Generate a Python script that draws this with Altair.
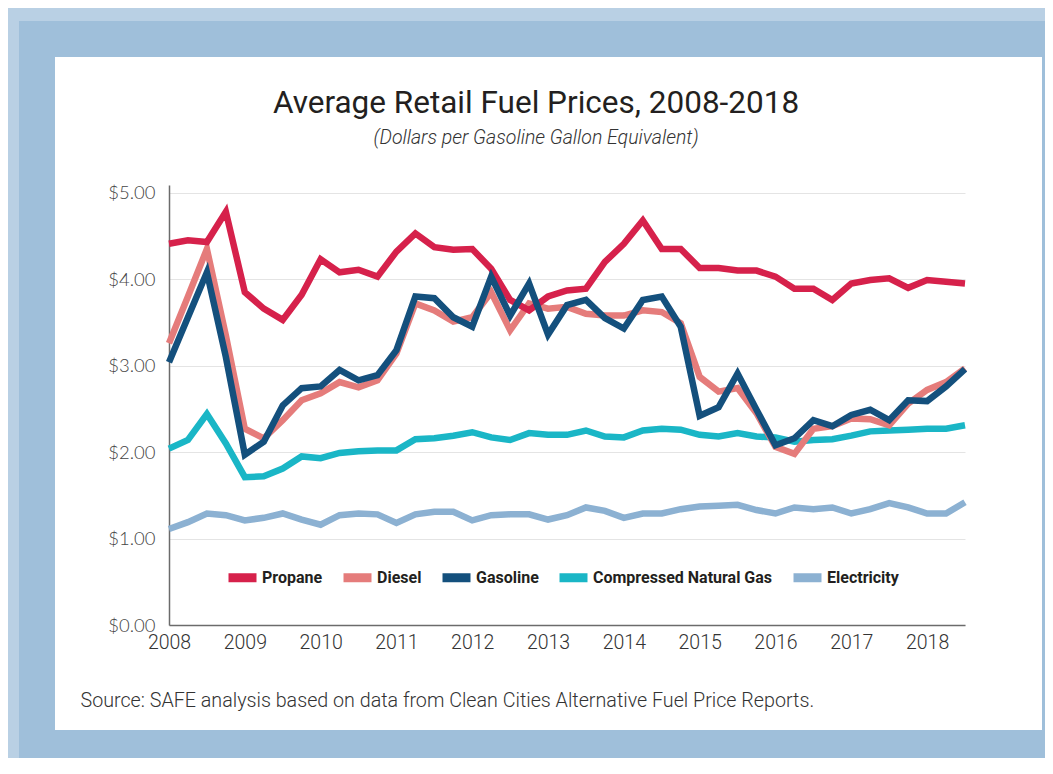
import altair as alt
import pandas as pd

# ---- data ----
fuels = ["Propane", "Diesel", "Gasoline", "Compressed Natural Gas", "Electricity"]
colors = ["#D6214B", "#E57C7B", "#14507D", "#1AB6C6", "#8CB1D2"]
draw_order = ["Electricity", "Compressed Natural Gas", "Diesel", "Propane", "Gasoline"]

# quarterly observations, 2008 Q1 .. 2018 Q3
periods = [2008 + q * 0.25 for q in range(43)]

propane = [4.41, 4.45, 4.43, 4.78, 3.85, 3.66, 3.53, 3.82, 4.23, 4.08, 4.11,
           4.03, 4.32, 4.53, 4.37, 4.34, 4.35, 4.12, 3.76, 3.64, 3.80, 3.87,
           3.89, 4.20, 4.41, 4.68, 4.35, 4.35, 4.13, 4.13, 4.10, 4.10,
           4.03, 3.89, 3.89, 3.76, 3.95, 3.99, 4.01, 3.90, 3.99, 3.97, 3.95]
diesel = [3.26, 3.80, 4.35, 3.35, 2.27, 2.16, 2.37, 2.60, 2.68, 2.81, 2.75,
          2.83, 3.14, 3.72, 3.64, 3.51, 3.56, 3.85, 3.41, 3.72, 3.66, 3.68,
          3.60, 3.58, 3.58, 3.64, 3.62, 3.49, 2.87, 2.70, 2.74, 2.45,
          2.06, 1.98, 2.27, 2.30, 2.39, 2.38, 2.31, 2.56, 2.72, 2.81, 2.97]
gasoline = [3.04, 3.56, 4.08, 3.10, 1.97, 2.12, 2.54, 2.74, 2.76, 2.95, 2.83,
            2.89, 3.18, 3.80, 3.78, 3.56, 3.45, 4.03, 3.58, 3.95, 3.36, 3.70,
            3.76, 3.55, 3.43, 3.76, 3.80, 3.45, 2.42, 2.52, 2.91, 2.49,
            2.08, 2.16, 2.37, 2.30, 2.43, 2.49, 2.37, 2.60, 2.59, 2.76, 2.96]
cng = [2.04, 2.14, 2.44, 2.10, 1.71, 1.72, 1.81, 1.95, 1.93, 1.99, 2.01,
       2.02, 2.02, 2.15, 2.16, 2.19, 2.23, 2.17, 2.14, 2.22, 2.20, 2.20,
       2.25, 2.18, 2.17, 2.25, 2.27, 2.26, 2.20, 2.18, 2.22, 2.18,
       2.17, 2.12, 2.14, 2.15, 2.19, 2.24, 2.25, 2.26, 2.27, 2.27, 2.31]
electricity = [1.11, 1.19, 1.29, 1.27, 1.21, 1.24, 1.29, 1.22, 1.16, 1.27, 1.29,
               1.28, 1.18, 1.28, 1.31, 1.31, 1.21, 1.27, 1.28, 1.28, 1.22, 1.27,
               1.36, 1.32, 1.24, 1.29, 1.29, 1.34, 1.37, 1.38, 1.39, 1.33,
               1.29, 1.36, 1.34, 1.36, 1.29, 1.34, 1.41, 1.36, 1.29, 1.29, 1.42]

year_ticks = list(range(2008, 2019))
price_ticks = [0, 1, 2, 3, 4, 5]

series = dict(zip(fuels, [propane, diesel, gasoline, cng, electricity]))
rows = []
for f in fuels:
    for t, v in zip(periods, series[f]):
        rows.append({"t": t, "price": v, "fuel": f})
df = pd.DataFrame(rows)

W, H = 796, 440
FONT = "Roboto"

x_axis = alt.Axis(
    values=year_ticks, format="d", grid=False, ticks=False,
    domainColor="#6b6b6b", domainWidth=1.5,
    labelFont=FONT, labelFontSize=19.5, labelFontWeight=300, labelColor="#333333",
    labelPadding=8, labelFlush=False, labelOverlap=False,
    title="Source: SAFE analysis based on data from Clean Cities Alternative Fuel Price Reports.",
    titleFont=FONT, titleFontSize=19.7, titleFontWeight=300, titleColor="#333333",
    titleX=-89, titleY=81, titleAnchor="start", titleAlign="left",
    titleBaseline="alphabetic", titleAngle=0,
)
y_axis = alt.Axis(
    values=price_ticks, format="$.2f", grid=True, gridColor="#e4e4e4", gridWidth=1,
    ticks=False, domainColor="#6b6b6b", domainWidth=1.5,
    labelFont="Lato", labelFontSize=18.5, labelFontWeight=300, labelColor="#444444",
    labelPadding=14, title=None,
)

legend = alt.Legend(
    title=None, orient="none", direction="horizontal", legendX=55, legendY=374,
    symbolType="stroke", symbolStrokeWidth=9, symbolSize=784, symbolOpacity=1,
    labelFont=FONT, labelFontSize=16, labelFontWeight="bold", labelColor="#231F20",
    labelOffset=1, columnPadding=2, padding=0, labelLimit=300,
)

base = alt.Chart(df).encode(
    x=alt.X("t:Q", scale=alt.Scale(domain=[2008, 2018.5], nice=False, zero=False), axis=x_axis),
    y=alt.Y("price:Q", scale=alt.Scale(domain=[0, 5.09], nice=False), axis=y_axis),
    color=alt.Color("fuel:N", scale=alt.Scale(domain=fuels, range=colors), legend=legend),
)
line_layers = [
    base.transform_filter(alt.datum.fuel == f).mark_line(strokeWidth=6.5, strokeJoin="miter")
    for f in draw_order
]

# decorative blue frame around the white card
one = pd.DataFrame({"k": [0]})
cl, cr, ct, cb = -114, 873, -128, 545
frame_outer = alt.Chart(one).mark_rect(fillOpacity=0, stroke="#b9d0e4", strokeWidth=120).encode(
    x=alt.value(cl - 60), x2=alt.value(cr + 60), y=alt.value(ct - 60), y2=alt.value(cb + 60))
frame_inner = alt.Chart(one).mark_rect(fillOpacity=0, stroke="#9fbfda", strokeWidth=36).encode(
    x=alt.value(cl - 18), x2=alt.value(cr + 18), y=alt.value(ct - 18), y2=alt.value(cb + 18))

chart = alt.layer(frame_outer, frame_inner, *line_layers).properties(
    width=W, height=H,
    autosize=alt.AutoSizeParams(type="none"),
    padding={"left": 161, "top": 177, "right": 80, "bottom": 133},
    background="white",
    title=alt.TitleParams(
        "Average Retail Fuel Prices, 2008-2018",
        subtitle="(Dollars per Gasoline Gallon Equivalent)",
        font=FONT, fontSize=31.5, fontWeight="normal", color="#231F20",
        subtitleFont=FONT, subtitleFontSize=19.5, subtitleFontStyle="italic",
        subtitleFontWeight=300, subtitleColor="#333333", subtitlePadding=9,
        anchor="middle", frame="group", dx=-31, dy=210, offset=0,
    ),
).configure_view(strokeWidth=0)

chart.save("out.html", embed_options={"renderer": "svg", "actions": False})
